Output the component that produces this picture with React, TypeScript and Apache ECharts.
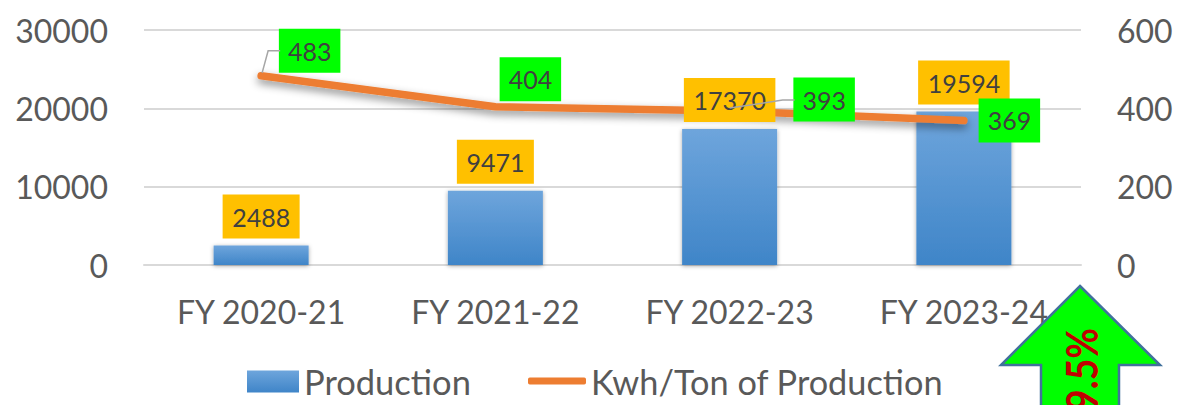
import React, { useEffect, useRef } from "react";
import * as echarts from "echarts";

const categories = ["FY 2020-21", "FY 2021-22", "FY 2022-23", "FY 2023-24"];
const production = [2488, 9471, 17370, 19594];
const kwhPerTon = [483, 404, 393, 369];
const lineLabelShift = [[48.5, -2.5], [35, -5], [94.5, 11], [45.5, 22.5]];
// leader lines: [data index, [elbow dx, elbow dy], [end dx, end dy]] relative to the point
const leaders: [number, number[], number[]][] = [
  [0, [7, -25], [19, -25]],
  [2, [53, -11], [65, -11]],
];
const font = "Lato";
const grey = "#595959";

export default function App() {
  const ref = useRef<HTMLDivElement>(null);
  useEffect(() => {
    const chart = echarts.init(ref.current!, undefined, { renderer: "svg" });
    chart.setOption({
      animation: false,
      textStyle: { fontFamily: font },
      grid: { left: 144, right: 110, top: 30, bottom: 140 },
      legend: [
        {
          left: 242,
          top: 359,
          itemGap: 6,
          itemWidth: 52,
          itemHeight: 22,
          textStyle: { fontSize: 34.5, color: grey, fontFamily: font },
          data: [{ name: "Production", icon: "rect" }],
        },
        {
          left: 523,
          top: 359,
          itemWidth: 58,
          itemHeight: 7,
          textStyle: { fontSize: 34.3, color: grey, fontFamily: font },
          itemStyle: { color: "#ED7D31" },
          data: [{ name: "Kwh/Ton of Production", icon: "roundRect" }],
        },
      ],
      xAxis: {
        type: "category",
        data: categories,
        axisTick: { show: false },
        axisLine: { lineStyle: { color: "#D9D9D9", width: 2 } },
        axisLabel: { fontSize: 32, color: grey, margin: 30, fontFamily: font },
      },
      yAxis: [
        {
          type: "value",
          min: 0,
          max: 30000,
          interval: 10000,
          axisLine: { show: false },
          axisTick: { show: false },
          splitLine: { lineStyle: { color: "#D9D9D9", width: 2 } },
          axisLabel: { fontSize: 32, color: grey, margin: 36, fontFamily: font, padding: [0, 0, 2, 0], formatter: (v: number) => String(v) },
        },
        {
          type: "value",
          min: 0,
          max: 600,
          interval: 200,
          axisLine: { show: false },
          axisTick: { show: false },
          splitLine: { show: false },
          axisLabel: { fontSize: 32, color: grey, margin: 36, fontFamily: font, padding: [0, 0, 2, 0] },
        },
      ],
      series: [
        {
          name: "Production",
          type: "bar",
          yAxisIndex: 0,
          data: production,
          barWidth: 95,
          barGap: "-100%",
          z: 2,
          itemStyle: {
            color: new echarts.graphic.LinearGradient(0, 0, 0, 1, [
              { offset: 0, color: "#6EA5DC" },
              { offset: 1, color: "#3F85C8" },
            ]),
            shadowBlur: 4,
            shadowColor: "rgba(0,0,0,0.35)",
            shadowOffsetY: 1,
          },
        },
        {
          name: "Kwh/Ton of Production",
          type: "line",
          yAxisIndex: 1,
          data: kwhPerTon,
          symbol: "none",
          z: 3,
          lineStyle: {
            color: "#ED7D31",
            width: 7.5,
            cap: "round",
            shadowBlur: 8,
            shadowColor: "rgba(0,0,0,0.45)",
            shadowOffsetY: 4,
          },
          itemStyle: { color: "#ED7D31" },
        },
        {
          name: "Production labels",
          type: "bar",
          yAxisIndex: 0,
          data: production,
          barWidth: 95,
          barGap: "-100%",
          z: 4,
          itemStyle: { color: "transparent" },
          label: {
            show: true,
            position: "top",
            distance: 7,
            fontSize: 25,
            color: "#404040",
            fontFamily: font,
            backgroundColor: "#FFC000",
            padding: [0, 9.5],
            height: 44,
            lineHeight: 44,
          },
        },
        {
          name: "Kwh labels",
          type: "line",
          yAxisIndex: 1,
          data: kwhPerTon,
          symbol: "circle",
          symbolSize: 1,
          showSymbol: true,
          z: 5,
          lineStyle: { color: "transparent", width: 0 },
          itemStyle: { color: "transparent" },
          label: {
            show: true,
            position: "top",
            distance: 0,
            fontSize: 25,
            color: "#404040",
            fontFamily: font,
            backgroundColor: "#00FF00",
            padding: [0, 9],
            height: 44,
            lineHeight: 44,
          },
          labelLayout: (p: any) => ({
            dx: lineLabelShift[p.dataIndex][0],
            dy: lineLabelShift[p.dataIndex][1],
          }),
        },
      ],
    });
    const leaderShapes = leaders.map(([i, elbow, end]) => {
      const [px, py] = chart.convertToPixel({ xAxisIndex: 0, yAxisIndex: 1 }, [i, kwhPerTon[i]]) as number[];
      return {
        type: "polyline",
        z: 50,
        shape: {
          points: [
            [px + (i === 0 ? 1 : 0), py - 3],
            [px + elbow[0], py + elbow[1]],
            [px + end[0], py + end[1]],
          ],
        },
        style: { stroke: "#A6A6A6", lineWidth: 1.5, fill: "none" },
      };
    });
    chart.setOption({
      graphic: [
        ...leaderShapes,
        {
          type: "polygon",
          z: 100,
          shape: {
            points: [
              [1080, 286],
              [1160, 365],
              [1119, 365],
              [1119, 420],
              [1041, 420],
              [1041, 365],
              [1001, 365],
            ],
          },
          style: { fill: "#00FF00", stroke: "#41719C", lineWidth: 2.5 },
        },
        {
          type: "text",
          z: 101,
          x: 1081,
          y: 328,
          rotation: Math.PI / 2,
          scaleX: 0.85,
          style: {
            text: "9.5%",
            fill: "#C00000",
            font: `bold 44px "${font}"`,
            align: "right",
            verticalAlign: "middle",
          },
        },
      ],
    });
    return () => chart.dispose();
  }, []);
  return (
    <div
      ref={ref}
      style={{ position: "fixed", left: 0, top: 0, width: 1191, height: 405, background: "#fff" }}
    />
  );
}
